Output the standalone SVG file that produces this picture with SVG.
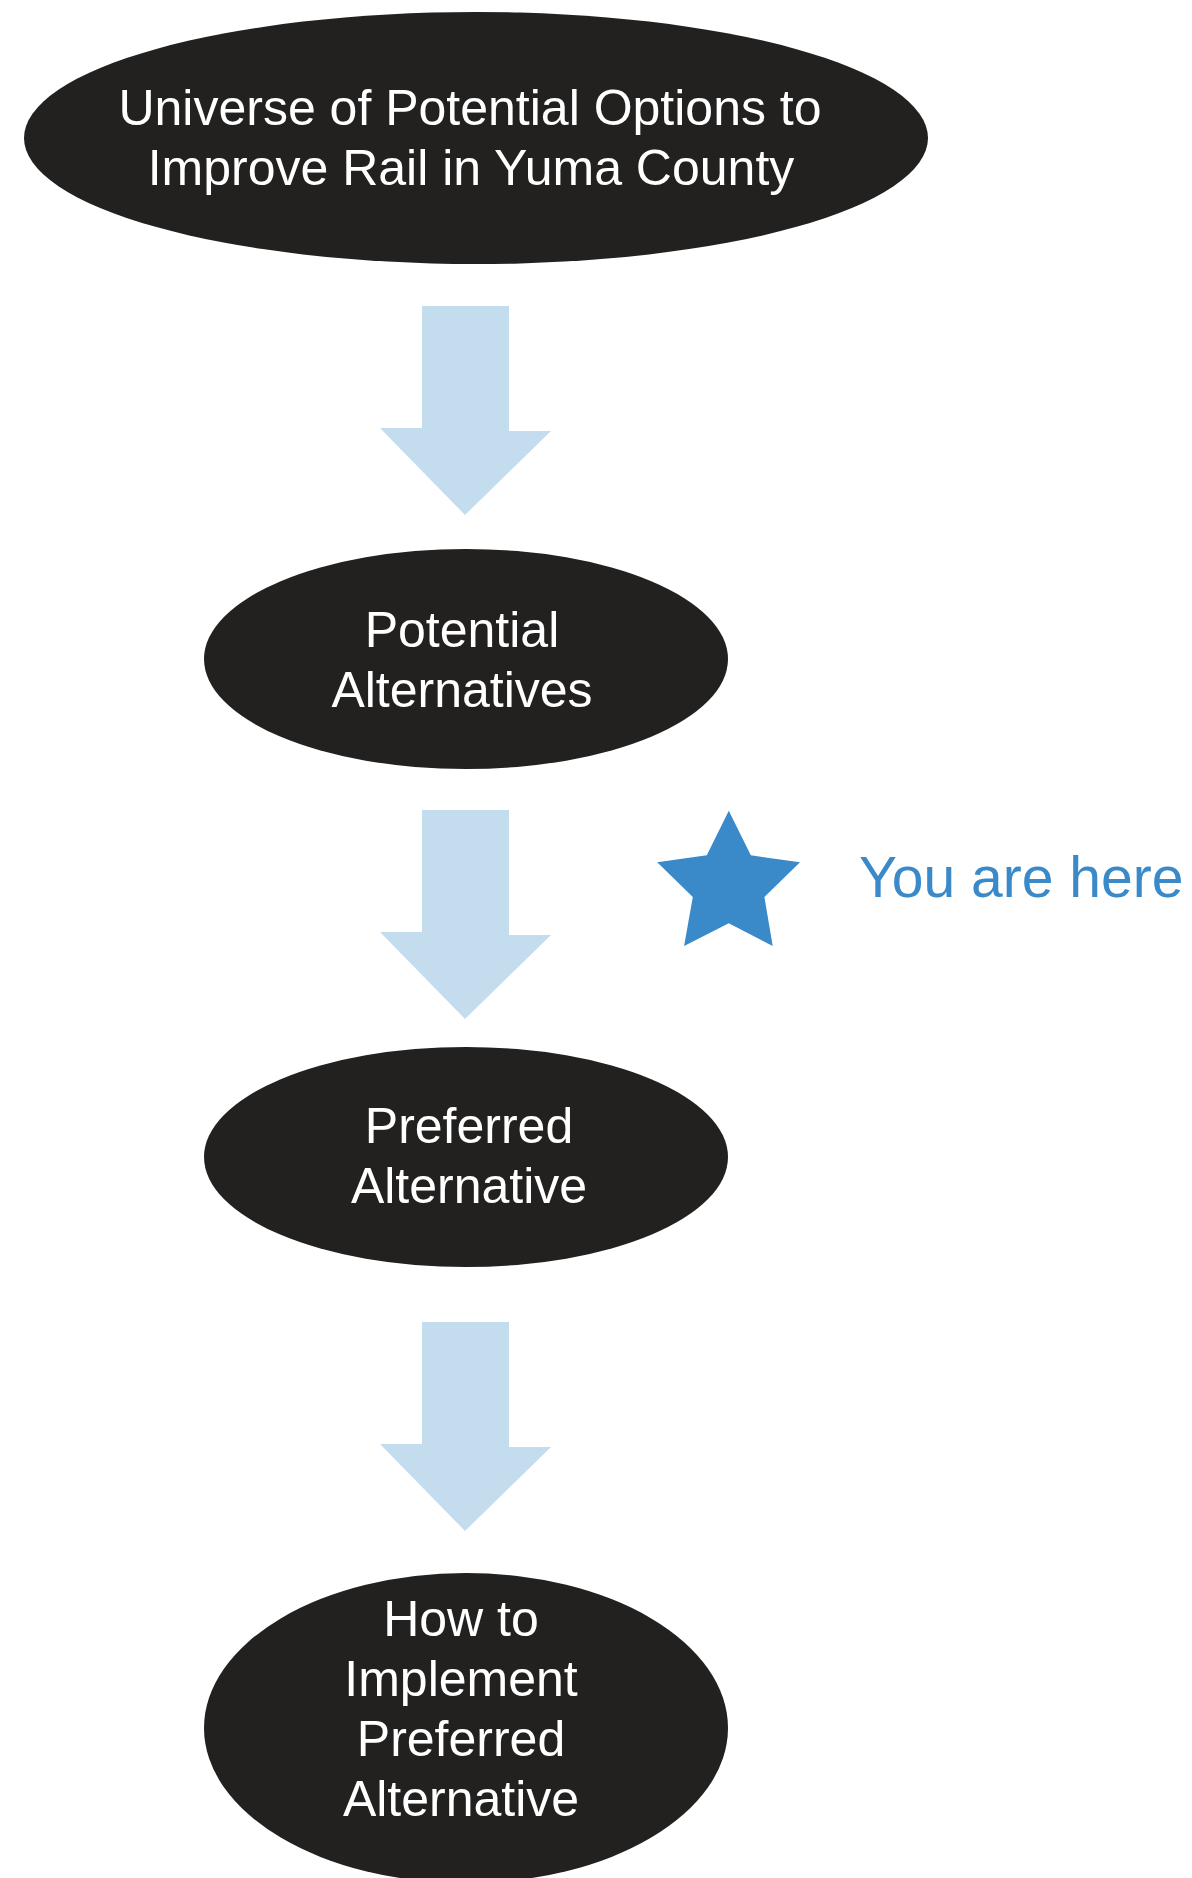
<svg xmlns="http://www.w3.org/2000/svg" width="1192" height="1878" viewBox="0 0 1192 1878">
<style>
.node{fill:#222120}
.lbl{font-family:"Liberation Sans",Arial,sans-serif;font-size:50px;fill:#ffffff;text-anchor:middle}
.arrow{fill:#c3dcee}
.here{fill:#3a89c9}
</style>
<rect width="1192" height="1878" fill="#ffffff"/>
<g id="connectors">
<polygon class="arrow" points="422,306 509,306 509,431 551,431 465,515 380,428 422,428"/>
<polygon class="arrow" points="422,810 509,810 509,935 551,935 465,1019 380,932 422,932"/>
<polygon class="arrow" points="422,1322 509,1322 509,1447 551,1447 465,1531 380,1444 422,1444"/>
</g>
<g id="node-universe">
<ellipse class="node" cx="476" cy="138" rx="452" ry="126"/>
<text class="lbl" x="470" y="125">Universe of Potential Options to</text>
<text class="lbl" x="471" y="185">Improve Rail in Yuma County</text>
</g>
<g id="node-potential">
<ellipse class="node" cx="466" cy="659" rx="262" ry="110"/>
<text class="lbl" x="462" y="647">Potential</text>
<text class="lbl" x="462" y="707">Alternatives</text>
</g>
<g id="node-preferred">
<ellipse class="node" cx="466" cy="1157" rx="262" ry="110"/>
<text class="lbl" x="469" y="1143">Preferred</text>
<text class="lbl" x="469" y="1203">Alternative</text>
</g>
<g id="node-implement">
<ellipse class="node" cx="466" cy="1728" rx="262" ry="155"/>
<text class="lbl" x="461" y="1636">How to</text>
<text class="lbl" x="461" y="1696">Implement</text>
<text class="lbl" x="461" y="1756">Preferred</text>
<text class="lbl" x="461" y="1816">Alternative</text>
</g>
<g id="you-are-here">
<polygon class="here" points="728.8,810.7 750.8,855.3 800,862.3 764.4,897 772.7,946 728.8,923.3 684.1,946 692.8,897 657.2,862.3 706.8,855.3"/>
<text x="859" y="897" style="font-family:'Liberation Sans',Arial,sans-serif;font-size:57px;fill:#3a89c9">You are here</text>
</g>
</svg>
